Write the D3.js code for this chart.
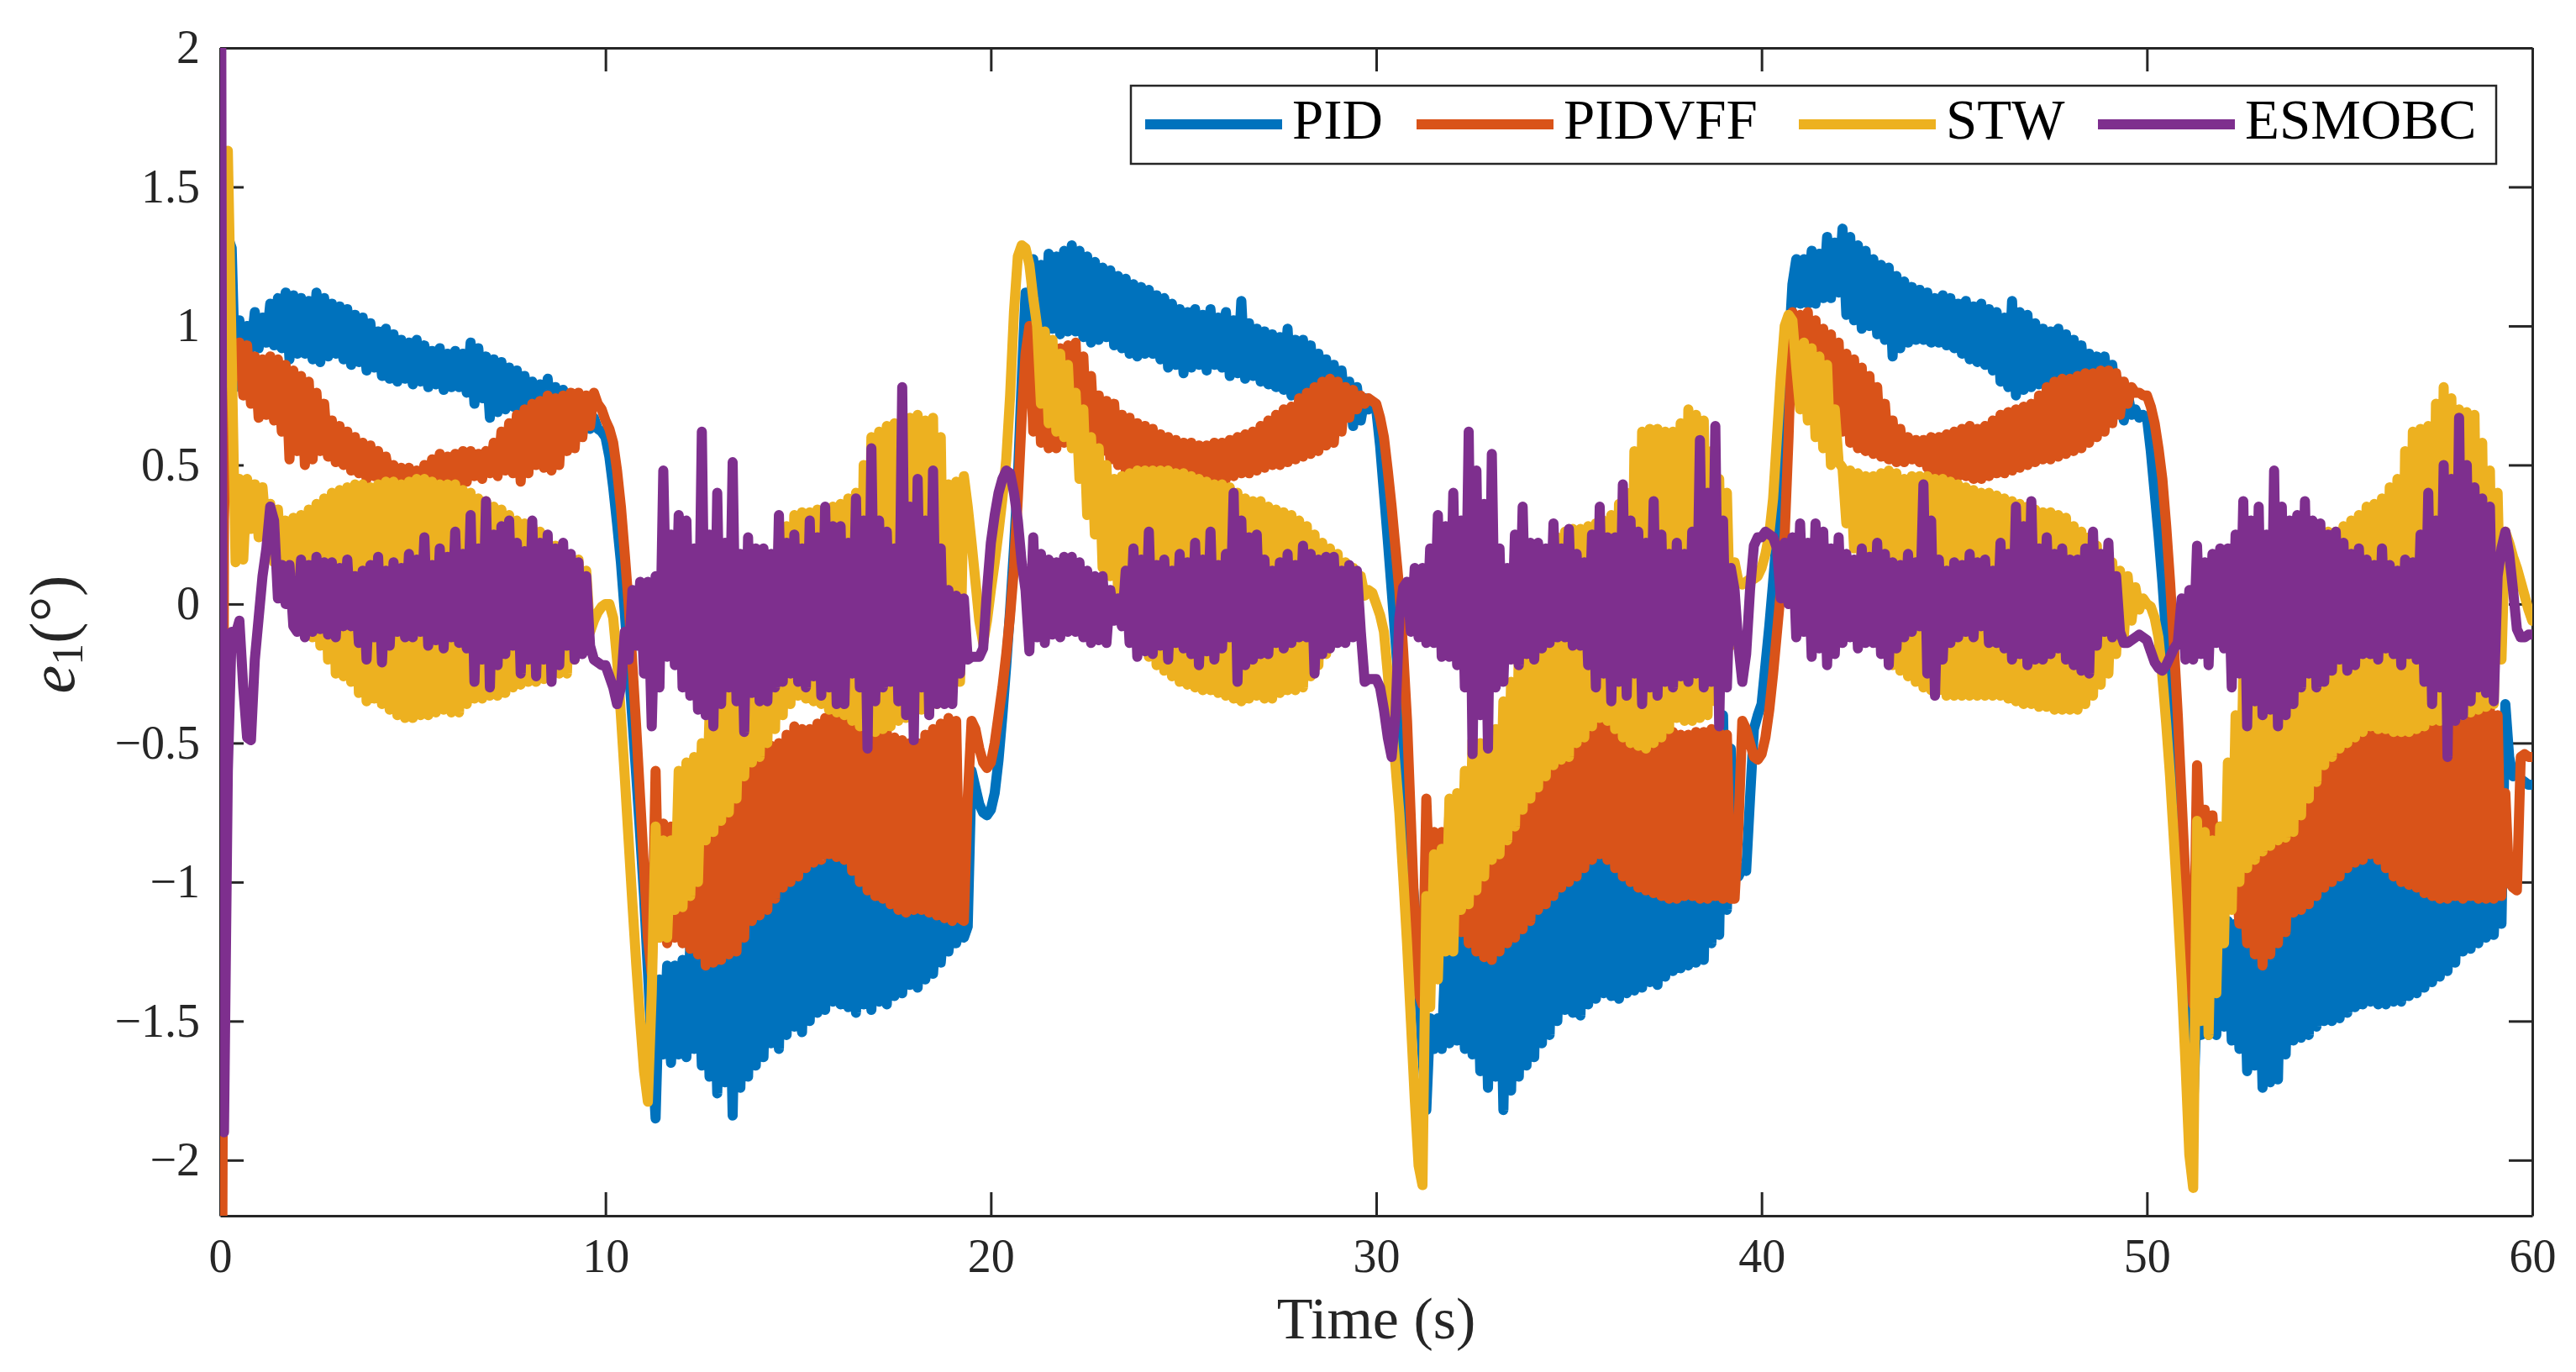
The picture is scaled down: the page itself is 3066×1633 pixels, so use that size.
<!DOCTYPE html>
<html><head><meta charset="utf-8">
<script src="https://cdn.jsdelivr.net/npm/d3@7"></script>
<style>html,body{margin:0;padding:0;background:#fff;}svg{display:block;}</style>
</head><body>
<svg id="chart" width="3066" height="1633"></svg>
<script>
// ---------------- data ----------------
const seriesNames = ["PID", "PIDVFF", "STW", "ESMOBC"];
const xTicks = [0, 10, 20, 30, 40, 50, 60];
const yTicks = [-2, -1.5, -1, -0.5, 0, 0.5, 1, 1.5, 2];
const xDomain = [0, 60];
const yDomain = [-2.2, 2];
// first transient samples (s)
const initTimes = [0, 0.025, 0.05, 0.075];
// then six 10-s blocks, 100 samples each (0.1 s apart), each ending at the block end
const blockLength = 10;

const pidValues = [
  [0, 0.2, 0.5, 0.8],
  [1.10,1.32,1.28,0.78,1.02,0.90,1.00,0.92,1.05,0.92,1.03,0.94,1.08,0.93,1.10,0.92,1.12,0.88,1.11,0.90,
   1.10,0.90,1.09,0.88,1.12,0.87,1.10,0.89,1.08,0.90,1.07,0.88,1.06,0.86,1.04,0.87,1.03,0.84,1.01,0.85,
   0.98,0.82,0.99,0.81,0.97,0.80,0.95,0.81,0.94,0.79,0.95,0.80,0.93,0.78,0.91,0.79,0.92,0.77,0.90,0.78,
   0.91,0.78,0.90,0.76,0.94,0.72,0.92,0.74,0.89,0.67,0.88,0.69,0.87,0.70,0.85,0.71,0.84,0.70,0.82,0.71,
   0.80,0.69,0.79,0.68,0.81,0.66,0.78,0.66,0.77,0.64,0.74,0.63,0.70,0.62,0.69,0.63,0.67,0.63,0.62,0.60],
  [0.53,0.42,0.29,0.15,-0.03,-0.22,-0.42,-0.62,-0.83,-1.05,-1.32,-1.60,-1.85,-1.35,-1.62,-1.30,-1.65,-1.30,-1.62,-1.28,
   -1.63,-1.22,-1.60,-1.25,-1.66,-1.17,-1.70,-1.20,-1.76,-1.14,-1.72,-1.16,-1.84,-1.12,-1.74,-1.13,-1.70,-1.09,-1.66,-1.10,
   -1.63,-1.06,-1.58,-1.05,-1.60,-1.02,-1.55,-1.01,-1.52,-0.98,-1.54,-0.97,-1.50,-0.95,-1.47,-0.94,-1.46,-0.92,-1.43,-0.93,
   -1.44,-0.94,-1.45,-0.96,-1.47,-0.98,-1.44,-0.99,-1.46,-1.00,-1.43,-1.02,-1.44,-1.04,-1.41,-1.06,-1.40,-1.09,-1.37,-1.08,
   -1.38,-1.08,-1.35,-1.10,-1.33,-1.10,-1.29,-1.12,-1.25,-1.12,-1.22,-1.15,-1.20,-1.16,-0.60,-0.66,-0.72,-0.75,-0.76,-0.74],
  [-0.68,-0.56,-0.40,-0.22,-0.02,0.20,0.45,0.80,1.12,0.98,1.24,0.99,1.22,0.97,1.26,0.99,1.25,0.97,1.27,0.98,
   1.29,0.98,1.27,0.96,1.25,0.94,1.23,0.95,1.21,0.96,1.20,0.93,1.18,0.92,1.17,0.90,1.15,0.89,1.14,0.90,
   1.13,0.90,1.11,0.88,1.10,0.85,1.08,0.86,1.06,0.83,1.05,0.85,1.06,0.86,1.04,0.84,1.06,0.86,1.03,0.85,
   1.05,0.82,1.02,0.83,1.09,0.81,1.01,0.82,0.99,0.80,0.98,0.79,0.97,0.78,0.96,0.77,0.99,0.75,0.95,0.76,
   0.95,0.74,0.93,0.75,0.90,0.73,0.88,0.72,0.86,0.72,0.84,0.70,0.80,0.64,0.78,0.66,0.74,0.70,0.72,0.70],
  [0.57,0.40,0.23,0.05,-0.13,-0.32,-0.53,-0.75,-0.92,-1.09,-1.35,-1.62,-1.82,-1.49,-1.60,-1.49,-1.60,-1.25,-1.58,-1.17,
   -1.57,-1.15,-1.60,-1.16,-1.62,-1.14,-1.68,-1.15,-1.74,-1.16,-1.70,-1.13,-1.82,-1.12,-1.75,-1.08,-1.70,-1.01,-1.66,-1.03,
   -1.63,-1.02,-1.58,-1.00,-1.55,-0.98,-1.50,-0.97,-1.46,-0.95,-1.47,-0.94,-1.48,-0.92,-1.44,-0.91,-1.42,-0.90,-1.40,-0.89,
   -1.41,-0.88,-1.42,-0.89,-1.40,-0.90,-1.39,-0.91,-1.38,-0.92,-1.36,-0.93,-1.37,-0.94,-1.34,-0.95,-1.32,-0.95,-1.31,-0.96,
   -1.30,-0.85,-1.29,-0.80,-1.28,-0.70,-1.22,-0.55,-1.19,-0.40,-1.10,-0.52,-0.90,-0.98,-0.95,-0.96,-0.70,-0.45,-0.40,-0.36],
  [-0.22,-0.08,0.08,0.25,0.45,0.65,0.90,1.15,1.24,1.08,1.24,1.08,1.27,1.08,1.26,1.10,1.32,1.10,1.30,1.12,
   1.35,1.04,1.32,1.02,1.29,0.99,1.27,1.00,1.24,0.97,1.22,0.95,1.21,0.89,1.18,0.92,1.16,0.94,1.14,0.95,
   1.13,0.95,1.12,0.94,1.10,0.94,1.11,0.93,1.10,0.92,1.08,0.90,1.09,0.88,1.07,0.87,1.08,0.86,1.06,0.84,
   1.05,0.80,1.03,0.78,1.09,0.75,1.05,0.77,1.04,0.78,1.01,0.79,0.99,0.78,0.98,0.79,0.99,0.78,0.97,0.77,
   0.95,0.76,0.93,0.75,0.90,0.75,0.89,0.74,0.89,0.75,0.86,0.72,0.80,0.66,0.76,0.68,0.70,0.67,0.68,0.67],
  [0.55,0.40,0.25,0.08,-0.12,-0.32,-0.58,-0.85,-1.10,-1.35,-1.60,-1.82,-1.40,-1.55,-1.30,-1.55,-1.17,-1.55,-1.18,-1.52,
   -1.14,-1.57,-1.15,-1.60,-1.16,-1.68,-1.18,-1.66,-1.17,-1.74,-1.14,-1.72,-1.11,-1.71,-1.08,-1.62,-1.05,-1.57,-1.03,-1.56,
   -1.01,-1.55,-0.98,-1.52,-0.96,-1.50,-0.94,-1.50,-0.92,-1.49,-0.91,-1.47,-0.90,-1.45,-0.88,-1.44,-0.87,-1.43,-0.88,-1.44,
   -0.88,-1.44,-0.89,-1.43,-0.90,-1.43,-0.91,-1.41,-0.92,-1.40,-0.93,-1.38,-0.93,-1.36,-0.94,-1.34,-0.95,-1.32,-0.95,-1.29,
   -0.95,-1.25,-0.93,-1.24,-0.92,-1.22,-0.88,-1.20,-0.82,-1.19,-0.85,-1.15,-0.36,-0.55,-0.62,-0.60,-0.63,-0.64,-0.65,-0.65]
];

const pidvffValues = [
  [2.3, 0.5, -2.6, -1.5],
  [0.30,0.95,0.90,0.82,0.94,0.75,0.93,0.72,0.89,0.67,0.88,0.68,0.89,0.66,0.88,0.62,0.86,0.52,0.84,0.55,
   0.82,0.50,0.80,0.52,0.76,0.55,0.72,0.53,0.66,0.51,0.64,0.50,0.62,0.48,0.60,0.47,0.58,0.45,0.57,0.46,
   0.55,0.44,0.53,0.45,0.50,0.43,0.49,0.44,0.49,0.43,0.48,0.42,0.50,0.41,0.52,0.42,0.54,0.42,0.53,0.43,
   0.54,0.43,0.55,0.44,0.55,0.46,0.54,0.45,0.55,0.47,0.58,0.46,0.62,0.48,0.65,0.47,0.68,0.44,0.70,0.47,
   0.72,0.50,0.73,0.49,0.75,0.48,0.74,0.50,0.75,0.55,0.76,0.56,0.76,0.60,0.75,0.64,0.76,0.72,0.70,0.66],
  [0.63,0.58,0.48,0.35,0.18,0.00,-0.22,-0.45,-0.70,-0.95,-1.20,-1.33,-0.60,-1.20,-0.79,-1.22,-0.80,-1.20,-0.68,-1.22,
   -0.68,-1.24,-0.70,-1.26,-0.72,-1.30,-0.66,-1.29,-0.63,-1.28,-0.64,-1.26,-0.65,-1.25,-0.60,-1.20,-0.55,-1.14,-0.53,-1.12,
   -0.52,-1.10,-0.51,-1.06,-0.50,-1.02,-0.47,-1.00,-0.44,-0.98,-0.45,-0.95,-0.45,-0.93,-0.43,-0.92,-0.41,-0.90,-0.40,-0.91,
   -0.40,-0.92,-0.41,-0.96,-0.42,-1.00,-0.43,-1.03,-0.44,-1.05,-0.45,-1.06,-0.46,-1.08,-0.48,-1.10,-0.49,-1.11,-0.50,-1.10,
   -0.50,-1.10,-0.47,-1.11,-0.45,-1.12,-0.43,-1.13,-0.41,-1.14,-0.42,-1.13,-1.14,-0.70,-0.42,-0.45,-0.52,-0.57,-0.59,-0.57],
  [-0.50,-0.40,-0.30,-0.18,-0.04,0.13,0.38,0.67,0.90,1.00,0.62,0.94,0.58,0.94,0.56,0.92,0.56,0.92,0.58,0.93,
   0.62,0.94,0.60,0.89,0.58,0.82,0.56,0.75,0.55,0.73,0.52,0.72,0.50,0.68,0.48,0.67,0.48,0.65,0.47,0.64,
   0.47,0.63,0.46,0.61,0.46,0.60,0.45,0.59,0.45,0.58,0.44,0.58,0.44,0.57,0.43,0.57,0.43,0.58,0.44,0.58,
   0.45,0.59,0.46,0.60,0.47,0.61,0.47,0.62,0.48,0.64,0.49,0.66,0.50,0.68,0.50,0.70,0.51,0.71,0.52,0.74,
   0.53,0.76,0.54,0.78,0.55,0.80,0.57,0.81,0.58,0.80,0.62,0.78,0.67,0.77,0.70,0.75,0.72,0.74,0.73,0.72],
  [0.67,0.60,0.48,0.35,0.20,0.05,-0.17,-0.42,-0.78,-1.15,-1.40,-1.44,-0.70,-1.06,-0.82,-1.06,-0.82,-1.14,-0.75,-1.14,
   -0.71,-1.18,-0.74,-1.22,-0.78,-1.25,-0.82,-1.27,-0.84,-1.28,-0.82,-1.25,-0.80,-1.22,-0.75,-1.20,-0.70,-1.17,-0.68,-1.14,
   -0.65,-1.10,-0.62,-1.08,-0.58,-1.05,-0.55,-1.02,-0.52,-1.00,-0.50,-0.98,-0.48,-0.95,-0.45,-0.92,-0.43,-0.90,-0.42,-0.92,
   -0.41,-0.95,-0.43,-0.98,-0.44,-1.00,-0.45,-1.02,-0.46,-1.03,-0.46,-1.04,-0.46,-1.05,-0.47,-1.06,-0.46,-1.06,-0.47,-1.05,
   -0.47,-1.05,-0.46,-1.06,-0.46,-1.06,-0.45,-1.05,-0.46,-1.06,-0.47,-1.06,-1.06,-0.80,-0.42,-0.45,-0.50,-0.55,-0.56,-0.54],
  [-0.48,-0.38,-0.25,-0.10,0.05,0.25,0.60,1.05,0.82,1.04,0.81,1.05,0.70,1.02,0.68,0.99,0.65,0.97,0.64,0.94,
   0.62,0.90,0.58,0.88,0.56,0.85,0.55,0.82,0.54,0.78,0.53,0.72,0.52,0.66,0.51,0.63,0.51,0.60,0.52,0.59,
   0.51,0.59,0.49,0.60,0.48,0.60,0.46,0.61,0.45,0.62,0.46,0.63,0.46,0.64,0.45,0.63,0.45,0.64,0.46,0.66,
   0.47,0.68,0.47,0.69,0.48,0.70,0.49,0.71,0.50,0.72,0.51,0.75,0.52,0.78,0.52,0.80,0.53,0.81,0.54,0.81,
   0.55,0.82,0.56,0.83,0.58,0.83,0.60,0.84,0.62,0.84,0.65,0.83,0.68,0.80,0.72,0.78,0.76,0.76,0.75,0.75],
  [0.71,0.65,0.56,0.45,0.28,0.08,-0.15,-0.40,-0.70,-1.00,-1.30,-1.44,-0.58,-0.92,-0.74,-0.92,-0.76,-1.00,-0.80,-1.09,
   -0.95,-1.09,-0.96,-1.15,-0.94,-1.22,-0.92,-1.26,-0.89,-1.30,-0.86,-1.26,-0.84,-1.22,-0.78,-1.18,-0.72,-1.11,-0.68,-1.10,
   -0.63,-1.08,-0.60,-1.05,-0.55,-1.02,-0.52,-1.00,-0.49,-0.98,-0.48,-0.95,-0.47,-0.93,-0.45,-0.92,-0.44,-0.90,-0.44,-0.92,
   -0.44,-0.95,-0.44,-0.98,-0.44,-1.00,-0.43,-1.01,-0.44,-1.02,-0.43,-1.04,-0.42,-1.05,-0.41,-1.06,-0.41,-1.06,-0.40,-1.05,
   -0.40,-1.06,-0.41,-1.05,-0.40,-1.06,-0.39,-1.06,-0.38,-1.06,-0.40,-1.05,-0.68,-1.00,-1.02,-1.03,-0.55,-0.54,-0.55,-0.55]
];

const stwValues = [
  [0.0, 0.3, 0.7, 1.2],
  [1.45,1.63,0.90,0.15,0.45,0.16,0.45,0.27,0.43,0.24,0.42,0.25,0.36,0.15,0.34,0.10,0.30,0.02,0.31,0.00,
   0.32,-0.09,0.34,-0.12,0.36,-0.15,0.38,-0.20,0.40,-0.25,0.41,-0.26,0.42,-0.28,0.43,-0.32,0.43,-0.35,0.42,-0.34,
   0.43,-0.36,0.44,-0.38,0.44,-0.40,0.43,-0.41,0.44,-0.41,0.45,-0.40,0.45,-0.40,0.44,-0.39,0.43,-0.38,0.43,-0.39,
   0.43,-0.39,0.41,-0.36,0.40,-0.34,0.38,-0.34,0.37,-0.33,0.35,-0.33,0.34,-0.32,0.32,-0.30,0.30,-0.29,0.29,-0.28,
   0.28,-0.28,0.26,-0.27,0.24,-0.26,0.21,-0.25,0.18,-0.25,0.17,-0.20,0.16,-0.14,0.12,-0.10,-0.06,-0.03,-0.01,0.00],
  [0.00,-0.05,-0.20,-0.40,-0.62,-0.85,-1.08,-1.30,-1.50,-1.68,-1.79,-1.40,-0.80,-1.20,-0.85,-1.20,-0.85,-1.10,-0.60,-1.09,
   -0.57,-1.05,-0.55,-1.00,-0.50,-0.85,-0.40,-0.82,-0.28,-0.78,-0.26,-0.75,-0.25,-0.70,-0.18,-0.62,-0.12,-0.57,-0.10,-0.55,
   -0.09,-0.50,0.10,-0.45,0.25,-0.40,0.28,-0.36,0.32,-0.33,0.33,-0.34,0.33,-0.35,0.34,-0.36,0.34,-0.38,0.35,-0.39,
   0.36,-0.40,0.38,-0.42,0.40,-0.44,0.50,-0.45,0.60,-0.46,0.62,-0.45,0.64,-0.44,0.65,-0.42,0.66,-0.41,0.67,-0.40,
   0.68,-0.38,0.66,-0.37,0.67,-0.36,0.60,-0.33,0.43,-0.30,0.44,-0.28,0.46,0.35,0.22,0.08,-0.06,-0.14,-0.06,0.05],
  [0.15,0.26,0.38,0.52,0.75,1.05,1.25,1.29,1.28,1.22,1.10,1.00,0.72,0.98,0.65,0.95,0.62,0.90,0.60,0.86,
   0.56,0.76,0.45,0.70,0.32,0.60,0.25,0.56,0.13,0.50,0.10,0.45,0.05,0.46,0.00,0.47,-0.10,0.48,-0.15,0.48,
   -0.19,0.48,-0.22,0.48,-0.24,0.48,-0.26,0.47,-0.28,0.47,-0.29,0.46,-0.30,0.45,-0.31,0.44,-0.31,0.43,-0.32,0.43,
   -0.33,0.42,-0.34,0.40,-0.35,0.38,-0.34,0.37,-0.33,0.37,-0.34,0.35,-0.34,0.34,-0.32,0.33,-0.31,0.32,-0.31,0.30,
   -0.30,0.28,-0.26,0.25,-0.22,0.22,-0.18,0.20,-0.14,0.18,-0.11,0.15,-0.09,0.13,-0.05,0.10,0.03,0.05,0.04,0.00],
  [-0.04,-0.10,-0.25,-0.42,-0.58,-0.75,-0.98,-1.22,-1.50,-1.78,-2.02,-2.09,-1.05,-1.45,-0.90,-1.35,-0.88,-1.25,-0.70,-1.25,
   -0.68,-1.10,-0.60,-1.08,-0.49,-1.03,-0.50,-0.98,-0.52,-0.92,-0.45,-0.90,-0.35,-0.85,-0.28,-0.80,-0.19,-0.74,-0.15,-0.70,
   -0.10,-0.66,0.05,-0.62,0.20,-0.58,0.24,-0.56,0.26,-0.55,0.27,-0.50,0.27,-0.48,0.28,-0.44,0.29,-0.41,0.30,-0.42,
   0.32,-0.45,0.36,-0.48,0.40,-0.50,0.55,-0.51,0.62,-0.52,0.63,-0.50,0.63,-0.48,0.62,-0.45,0.62,-0.41,0.65,-0.42,
   0.70,-0.42,0.68,-0.41,0.66,-0.40,0.55,-0.35,0.45,-0.25,0.40,-0.15,0.15,0.08,0.07,0.08,0.09,0.09,0.10,0.13],
  [0.18,0.25,0.38,0.60,0.82,1.00,1.04,1.02,0.85,0.70,0.94,0.66,0.92,0.60,0.89,0.56,0.86,0.50,0.70,0.51,
   0.49,0.29,0.48,0.20,0.47,0.13,0.46,0.00,0.46,-0.14,0.47,-0.18,0.48,-0.22,0.47,-0.24,0.45,-0.26,0.46,-0.28,
   0.46,-0.30,0.46,-0.31,0.45,-0.31,0.45,-0.33,0.44,-0.33,0.43,-0.33,0.42,-0.33,0.41,-0.33,0.40,-0.33,0.40,-0.33,
   0.39,-0.33,0.38,-0.34,0.37,-0.35,0.36,-0.36,0.35,-0.36,0.34,-0.37,0.33,-0.37,0.33,-0.38,0.32,-0.38,0.31,-0.38,
   0.28,-0.38,0.26,-0.36,0.24,-0.33,0.21,-0.29,0.18,-0.25,0.15,-0.18,0.12,-0.12,0.10,-0.06,0.06,-0.02,0.02,0.00],
  [-0.01,-0.05,-0.12,-0.26,-0.43,-0.62,-0.85,-1.09,-1.35,-1.65,-1.98,-2.10,-0.78,-1.50,-0.82,-1.55,-0.85,-1.40,-0.80,-1.22,
   -0.57,-1.10,-0.40,-1.00,-0.25,-0.95,-0.27,-0.92,-0.28,-0.89,-0.24,-0.87,-0.20,-0.85,0.00,-0.84,0.20,-0.82,0.22,-0.76,
   0.24,-0.70,0.25,-0.64,0.25,-0.58,0.26,-0.55,0.26,-0.52,0.28,-0.50,0.30,-0.48,0.32,-0.46,0.35,-0.44,0.36,-0.45,
   0.38,-0.45,0.42,-0.46,0.45,-0.46,0.55,-0.46,0.62,-0.45,0.63,-0.44,0.64,-0.42,0.72,-0.42,0.78,-0.41,0.74,-0.41,
   0.70,-0.40,0.69,-0.39,0.68,-0.38,0.58,-0.37,0.48,-0.36,0.40,-0.20,0.26,0.22,0.17,0.13,0.08,0.03,-0.02,-0.06]
];

const esmobcValues = [
  [0.0, 2.4, 0.5, -1.2],
  [-1.90,-0.60,-0.10,-0.11,-0.06,-0.30,-0.48,-0.49,-0.20,-0.05,0.10,0.20,0.35,0.30,0.02,0.14,0.00,0.14,-0.08,-0.10,
   0.16,-0.12,0.14,-0.10,0.17,-0.09,0.15,-0.11,0.15,-0.12,0.13,-0.08,0.16,-0.08,0.10,-0.14,0.12,-0.20,0.14,-0.12,
   0.17,-0.21,0.12,-0.15,0.15,-0.10,0.13,-0.12,0.18,-0.12,0.16,-0.10,0.24,-0.15,0.14,-0.13,0.20,-0.16,0.17,-0.12,
   0.26,-0.14,0.18,-0.16,0.32,-0.28,0.20,-0.20,0.37,-0.30,0.25,-0.22,0.28,-0.18,0.30,-0.15,0.22,-0.25,0.19,-0.20,
   0.30,-0.26,0.22,-0.20,0.25,-0.28,0.20,-0.22,0.22,-0.15,0.18,-0.20,0.15,-0.18,0.10,-0.15,-0.20,-0.21,-0.22,-0.22],
  [-0.26,-0.30,-0.36,-0.30,-0.10,-0.20,0.05,-0.15,0.08,-0.25,0.08,-0.44,0.10,-0.30,0.48,-0.19,0.25,-0.22,0.32,-0.30,
   0.30,-0.33,0.20,-0.38,0.62,-0.40,0.25,-0.44,0.40,-0.36,0.22,-0.30,0.51,-0.35,0.18,-0.46,0.24,-0.32,0.20,-0.35,
   0.20,-0.35,0.18,-0.30,0.32,-0.28,0.22,-0.25,0.25,-0.28,0.20,-0.30,0.30,-0.26,0.24,-0.33,0.35,-0.30,0.28,-0.36,
   0.28,-0.36,0.22,-0.25,0.38,-0.30,0.30,-0.52,0.56,-0.35,0.30,-0.30,0.26,-0.28,0.20,-0.35,0.78,-0.40,0.35,-0.49,
   0.45,-0.30,0.30,-0.40,0.48,-0.36,0.20,-0.36,0.05,-0.36,0.03,-0.25,0.02,-0.20,-0.19,-0.19,-0.19,-0.16,0.05,0.22],
  [0.32,0.40,0.45,0.48,0.47,0.40,0.30,0.15,0.05,-0.17,0.24,-0.12,0.18,-0.14,0.16,-0.11,0.15,-0.12,0.17,-0.10,
   0.17,-0.10,0.15,-0.12,0.12,-0.14,0.10,-0.13,0.10,-0.14,0.05,-0.06,0.02,-0.08,0.12,-0.14,0.20,-0.19,0.16,-0.17,
   0.26,-0.18,0.14,-0.15,0.16,-0.20,0.12,-0.14,0.18,-0.16,0.15,-0.18,0.22,-0.22,0.16,-0.17,0.26,-0.20,0.14,-0.16,
   0.18,-0.12,0.40,-0.28,0.30,-0.22,0.24,-0.20,0.25,-0.18,0.16,-0.18,0.12,-0.14,0.15,-0.16,0.18,-0.14,0.14,-0.12,
   0.21,-0.12,0.18,-0.25,0.16,-0.18,0.17,-0.16,0.17,-0.14,0.12,-0.14,0.14,-0.12,0.12,-0.10,-0.28,-0.27,-0.27,-0.27],
  [-0.30,-0.38,-0.48,-0.55,-0.40,-0.05,0.06,0.08,-0.10,0.13,-0.12,0.13,-0.14,0.20,-0.14,0.32,-0.19,0.28,-0.19,0.40,
   -0.22,0.30,-0.30,0.62,-0.54,0.48,-0.40,0.36,-0.52,0.54,-0.30,0.20,-0.28,0.13,-0.20,0.25,-0.22,0.35,-0.18,0.22,
   -0.20,0.22,-0.16,0.20,-0.14,0.29,-0.12,0.20,-0.12,0.27,-0.15,0.18,-0.15,0.15,-0.22,0.25,-0.30,0.35,-0.25,0.24,
   -0.35,0.24,-0.28,0.43,-0.33,0.30,-0.25,0.26,-0.36,0.22,-0.30,0.37,-0.33,0.25,-0.28,0.18,-0.30,0.22,-0.26,0.18,
   -0.28,0.26,-0.25,0.59,-0.30,0.40,-0.28,0.64,-0.44,0.30,-0.30,0.13,0.05,-0.15,-0.28,-0.18,0.05,0.21,0.24,0.24],
  [0.26,0.25,0.24,0.20,0.02,0.22,0.00,0.24,-0.12,0.29,-0.10,0.22,-0.19,0.29,-0.16,0.26,-0.22,0.20,-0.18,0.24,
   -0.14,0.18,-0.12,0.16,-0.16,0.20,-0.14,0.17,-0.14,0.22,-0.18,0.18,-0.22,0.15,-0.16,0.14,-0.12,0.18,-0.10,0.15,
   -0.08,0.43,-0.25,0.30,-0.33,0.16,-0.20,0.12,-0.14,0.15,-0.12,0.14,-0.10,0.18,-0.12,0.15,-0.08,0.16,-0.14,0.12,
   -0.14,0.22,-0.16,0.18,-0.20,0.35,-0.18,0.28,-0.22,0.37,-0.20,0.20,-0.20,0.24,-0.18,0.18,-0.16,0.20,-0.20,0.16,
   -0.22,0.16,-0.24,0.20,-0.25,0.26,-0.15,0.18,-0.10,0.22,-0.12,0.10,-0.10,-0.14,-0.14,-0.13,-0.12,-0.11,-0.12,-0.13],
  [-0.17,-0.21,-0.23,-0.24,-0.22,-0.19,-0.16,-0.14,0.02,-0.20,0.05,-0.20,0.21,-0.18,0.15,-0.22,0.18,-0.14,0.20,-0.16,
   0.20,-0.30,0.25,-0.25,0.37,-0.44,0.30,-0.35,0.35,-0.40,0.25,-0.38,0.48,-0.44,0.35,-0.40,0.30,-0.36,0.32,-0.30,
   0.37,-0.25,0.30,-0.30,0.29,-0.28,0.25,-0.24,0.26,-0.20,0.22,-0.24,0.18,-0.22,0.20,-0.18,0.16,-0.18,0.14,-0.20,
   0.20,-0.16,0.14,-0.18,0.12,-0.22,0.16,-0.18,0.15,-0.20,0.25,-0.28,0.40,-0.36,0.30,-0.30,0.50,-0.55,0.45,-0.42,
   0.67,-0.40,0.50,-0.35,0.42,-0.30,0.38,-0.32,0.35,-0.35,0.10,0.20,0.26,0.18,0.05,-0.09,-0.12,-0.12,-0.11,-0.11]
];

const seriesValues = [pidValues, pidvffValues, stwValues, esmobcValues];

// ---------------- styles / layout ----------------
const colors = ["#0072BD", "#D95319", "#EDB120", "#7E2F8E"];
const axisColor = "#262626";
const fontFamily = "'Liberation Serif', 'Times New Roman', Times, serif";
const plot = {left: 262, right: 3014, top: 57, bottom: 1447};
const lineWidth = 12;

const svg = d3.select("#chart");
const x = d3.scaleLinear().domain(xDomain).range([plot.left, plot.right]);
const y = d3.scaleLinear().domain(yDomain).range([plot.bottom, plot.top]);

function toPoints(blocks) {
  const pts = blocks[0].map((v, i) => [initTimes[i], v]);
  for (let k = 1; k < blocks.length; k++) {
    const b = blocks[k];
    b.forEach((v, i) => pts.push([(k - 1) * blockLength + blockLength * (i + 1) / b.length, v]));
  }
  return pts;
}

// ---------------- axes (below data, like MATLAB) ----------------
const fmt = d => (d < 0 ? "\u2212" : "") + Math.abs(d);
function styleAxis(g, labels) {
  g.attr("font-family", fontFamily).attr("font-size", 56);
  g.select(".domain").attr("stroke", axisColor).attr("stroke-width", 3);
  g.selectAll(".tick line").attr("stroke", axisColor).attr("stroke-width", 3);
  g.selectAll(".tick text").attr("fill", axisColor);
  if (!labels) g.selectAll(".tick text").remove();
}
svg.append("g").attr("transform", `translate(0,${plot.bottom})`)
  .call(d3.axisBottom(x).tickValues(xTicks).tickSizeInner(-28).tickSizeOuter(0).tickPadding(27).tickFormat(fmt))
  .call(g => styleAxis(g, true));
svg.append("g").attr("transform", `translate(0,${plot.top})`)
  .call(d3.axisTop(x).tickValues(xTicks).tickSizeInner(-28).tickSizeOuter(0).tickFormat(""))
  .call(g => styleAxis(g, false));
svg.append("g").attr("transform", `translate(${plot.left},0)`)
  .call(d3.axisLeft(y).tickValues(yTicks).tickSizeInner(-28).tickSizeOuter(0).tickPadding(24).tickFormat(fmt))
  .call(g => styleAxis(g, true));
svg.append("g").attr("transform", `translate(${plot.right},0)`)
  .call(d3.axisRight(y).tickValues(yTicks).tickSizeInner(-28).tickSizeOuter(0).tickFormat(""))
  .call(g => styleAxis(g, false));

// ---------------- lines ----------------
svg.append("clipPath").attr("id", "plotClip").append("rect")
  .attr("x", plot.left).attr("y", plot.top)
  .attr("width", plot.right - plot.left).attr("height", plot.bottom - plot.top);

const line = d3.line().x(d => x(d[0])).y(d => y(d[1]));
svg.append("g").attr("clip-path", "url(#plotClip)")
  .selectAll("path").data(seriesValues.map(toPoints)).join("path")
  .attr("d", line)
  .attr("fill", "none")
  .attr("stroke", (d, i) => colors[i])
  .attr("stroke-width", lineWidth)
  .attr("stroke-linejoin", "round")
  .attr("stroke-linecap", "round");

// ---------------- axis labels ----------------
svg.append("text")
  .attr("x", (plot.left + plot.right) / 2).attr("y", 1593)
  .attr("text-anchor", "middle").attr("font-family", fontFamily)
  .attr("font-size", 70).attr("fill", axisColor).text("Time (s)");

const yl = svg.append("text")
  .attr("transform", "translate(88,755) rotate(-90)")
  .attr("text-anchor", "middle").attr("font-family", fontFamily)
  .attr("font-size", 76).attr("fill", axisColor);
yl.append("tspan").attr("font-style", "italic").text("e");
yl.append("tspan").attr("font-size", 52).attr("dy", 10).text("1");
yl.append("tspan").attr("dy", -10).text("(\u00B0)");

// ---------------- legend ----------------
const legendBox = {x: 1346, y: 102, w: 1625, h: 93};
const legendLineX = [1363, 1686, 2141, 2497];
const legendLineLen = 163;
const legendTextGap = 12;
const lg = svg.append("g");
lg.append("rect").attr("x", legendBox.x).attr("y", legendBox.y)
  .attr("width", legendBox.w).attr("height", legendBox.h)
  .attr("fill", "#fff").attr("stroke", axisColor).attr("stroke-width", 2.5);
const items = lg.selectAll("g.item").data(seriesNames).join("g").attr("class", "item");
items.append("line")
  .attr("x1", (d, i) => legendLineX[i]).attr("x2", (d, i) => legendLineX[i] + legendLineLen)
  .attr("y1", 148).attr("y2", 148)
  .attr("stroke", (d, i) => colors[i]).attr("stroke-width", lineWidth);
items.append("text")
  .attr("x", (d, i) => legendLineX[i] + legendLineLen + legendTextGap).attr("y", 165)
  .attr("font-family", fontFamily).attr("font-size", 67).attr("fill", "#000")
  .text(d => d);
</script>
</body></html>
